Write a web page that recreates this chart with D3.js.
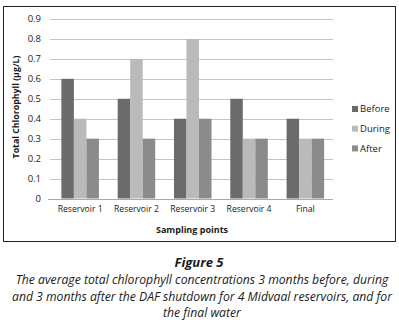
<!DOCTYPE html>
<html>
<head>
<meta charset="utf-8">
<script src="https://cdn.jsdelivr.net/npm/d3@7"></script>
<style>
  body { margin: 0; background: #fff; }
  svg { display: block; }
  text { font-family: "Open Sans", sans-serif; fill: #1a1a1a; }
</style>
</head>
<body>
<svg width="399" height="329"></svg>
<script>
let categories = ["Reservoir 1", "Reservoir 2", "Reservoir 3", "Reservoir 4", "Final"];
let seriesNames = ["Before", "During", "After"];
let before = [0.6, 0.5, 0.4, 0.5, 0.4];
let during = [0.4, 0.7, 0.8, 0.3, 0.3];
let after = [0.3, 0.3, 0.4, 0.3, 0.3];
let yTicks = [0, 0.1, 0.2, 0.3, 0.4, 0.5, 0.6, 0.7, 0.8, 0.9];
let captionLines = [
  "The average total chlorophyll concentrations 3 months before, during",
  "and 3 months after the DAF shutdown for 4 Midvaal reservoirs, and for",
  "the final water"
];

let colors = ["#6b6b6b", "#bababa", "#8b8b8b"];
let series = [before, during, after];

let svg = d3.select("svg");

// chart frame
svg.append("rect")
  .attr("x", 3.5).attr("y", 6.5)
  .attr("width", 392).attr("height", 235)
  .attr("fill", "none")
  .attr("stroke", "#222")
  .attr("stroke-width", 1);

let x = d3.scaleBand()
  .domain(categories)
  .range([52, 333.5]);

let y = d3.scaleLinear()
  .domain([0, 0.9])
  .range([198.5, 19]);

let inner = d3.scaleBand()
  .domain(seriesNames)
  .range([0, x.bandwidth() * 3 / 4.5])
  .padding(0);

let offset = x.bandwidth() * 0.75 / 4.5;

// gridlines
svg.append("g")
  .selectAll("line")
  .data(yTicks.filter(d => d > 0))
  .enter().append("line")
    .attr("x1", 50).attr("x2", 333)
    .attr("y1", d => Math.round(y(d)) + 0.5)
    .attr("y2", d => Math.round(y(d)) + 0.5)
    .attr("stroke", "#c4c4c4");

// bars
seriesNames.forEach((name, si) => {
  svg.append("g")
    .selectAll("rect")
    .data(series[si])
    .enter().append("rect")
      .attr("x", (d, i) => x(categories[i]) + offset + inner(name))
      .attr("y", d => y(d))
      .attr("width", inner.bandwidth())
      .attr("height", d => y(0) - y(d))
      .attr("fill", colors[si]);
});

// baseline
svg.append("line")
  .attr("x1", 48).attr("x2", 333)
  .attr("y1", Math.round(y(0)) + 0.5).attr("y2", Math.round(y(0)) + 0.5)
  .attr("stroke", "#aaa");

// y tick labels
svg.append("g")
  .selectAll("text")
  .data(yTicks)
  .enter().append("text")
    .attr("x", 41)
    .attr("y", d => y(d))
    .attr("dy", "0.35em")
    .attr("text-anchor", "end")
    .style("font-size", "9.5px")
    .text(d => d === 0 ? "0" : d3.format(".1f")(d));

// x labels
svg.append("g")
  .selectAll("text")
  .data(categories)
  .enter().append("text")
    .attr("x", d => x(d) + x.bandwidth() / 2)
    .attr("y", 209)
    .attr("dy", "0.35em")
    .attr("text-anchor", "middle")
    .style("font-size", "8.6px")
    .text(d => d);

// axis titles
svg.append("text")
  .attr("transform", "translate(16,107) rotate(-90)")
  .attr("dy", "0.35em")
  .attr("text-anchor", "middle")
  .style("font-size", "8.8px")
  .style("font-weight", "bold")
  .text("Total Chlorophyll (µg/L)");

svg.append("text")
  .attr("x", 192).attr("y", 230)
  .attr("dy", "0.35em")
  .attr("text-anchor", "middle")
  .style("font-size", "9px")
  .style("font-weight", "bold")
  .text("Sampling points");

// legend
let legend = svg.append("g")
  .selectAll("g")
  .data(seriesNames)
  .enter().append("g")
    .attr("transform", (d, i) => "translate(352," + (109 + i * 19.7) + ")");

legend.append("rect")
  .attr("x", 0).attr("y", -3)
  .attr("width", 6).attr("height", 6)
  .attr("fill", (d, i) => colors[i]);

legend.append("text")
  .attr("x", 8)
  .attr("dy", "0.35em")
  .style("font-size", "9.5px")
  .text(d => d);

// caption
svg.append("text")
  .attr("x", 199).attr("y", 262)
  .attr("dy", "0.35em")
  .attr("text-anchor", "middle")
  .style("font-size", "13px")
  .style("font-weight", "bold")
  .style("font-style", "italic")
  .text("Figure 5");

svg.append("g")
  .selectAll("text")
  .data(captionLines)
  .enter().append("text")
    .attr("x", 202)
    .attr("y", (d, i) => 280 + i * 16.5)
    .attr("dy", "0.35em")
    .attr("text-anchor", "middle")
    .style("font-size", "12.2px")
    .style("font-style", "italic")
    .text(d => d);
</script>
</body>
</html>
